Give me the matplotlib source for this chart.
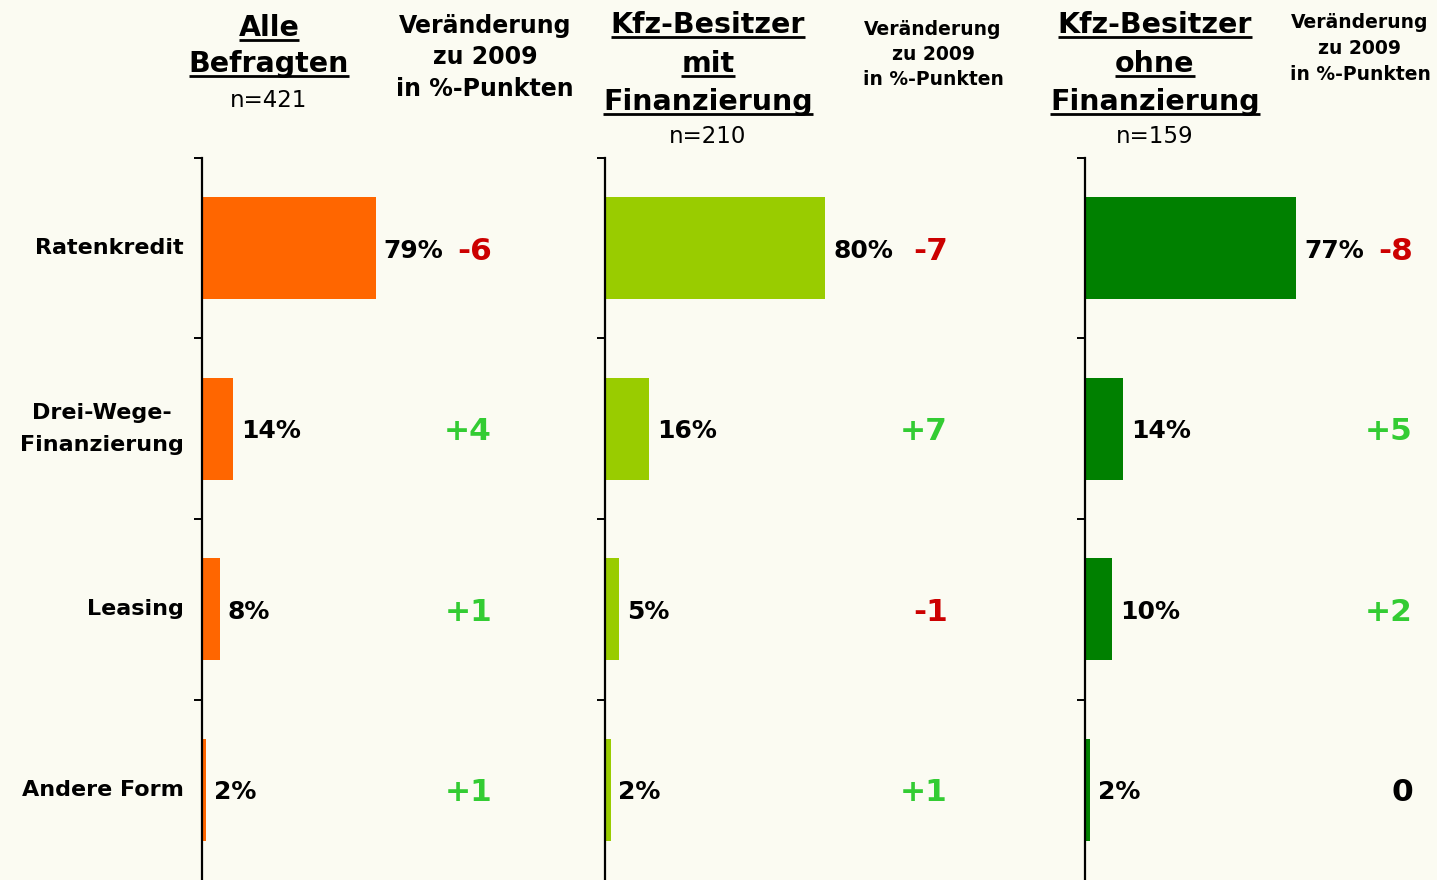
import matplotlib
matplotlib.use("Agg")
import matplotlib.pyplot as plt
from matplotlib.lines import Line2D

# ---- data -------------------------------------------------------------
categories = ["Ratenkredit", "Drei-Wege-\nFinanzierung", "Leasing", "Andere Form"]

alle_befragten = [79, 14, 8, 2]
mit_finanzierung = [80, 16, 5, 2]
ohne_finanzierung = [77, 14, 10, 2]

diff_alle = [-6, 4, 1, 1]
diff_mit = [-7, 7, -1, 1]
diff_ohne = [-8, 5, 2, 0]

group_titles = [["Alle", "Befragten"],
                ["Kfz-Besitzer", "mit", "Finanzierung"],
                ["Kfz-Besitzer", "ohne", "Finanzierung"]]
group_n = ["n=421", "n=210", "n=159"]
change_header = ["Veränderung", "zu 2009", "in %-Punkten"]

# ---- styling ----------------------------------------------------------
W, H = 1437, 880
BG = "#FBFBF2"
BAR_COLORS = ["#FF6600", "#99CC00", "#008000"]
NEG, POS, ZERO = "#CC0000", "#33CC33", "#000000"
FONT = "DejaVu Sans"

fig = plt.figure(figsize=(W / 100, H / 100), dpi=100, facecolor=BG)


def fx(px):
    return px / W


def fy(py):
    return 1 - py / H


# panel geometry in pixels: axis left edge, px per percent, x of change label
panels = [
    dict(values=alle_befragten, diffs=diff_alle, left=202, scale=2.2, diff_x=492,
         title_x=269, title_base=[36, 72], n_base=107,
         ch_x=485, ch_size=17, ch_base=[33, 64, 96]),
    dict(values=mit_finanzierung, diffs=diff_mit, left=605, scale=2.75, diff_x=948,
         title_x=708, title_base=[33, 72, 110], n_base=143,
         ch_x=933, ch_size=13.5, ch_base=[35, 60, 85]),
    dict(values=ohne_finanzierung, diffs=diff_ohne, left=1085, scale=2.74, diff_x=1413,
         title_x=1155, title_base=[33, 72, 110], n_base=143,
         ch_x=1360, ch_size=13.5, ch_base=[28, 54, 80]),
]

top_px = 158
underlined = []

for i, p in enumerate(panels):
    width_px = 100 * p["scale"]
    ax = fig.add_axes([fx(p["left"]), 0, width_px / W, (H - top_px) / H])
    ax.set_facecolor("none")
    ypos = list(range(len(categories)))
    ax.barh(ypos, p["values"], height=0.565, color=BAR_COLORS[i], zorder=2)
    ax.set_xlim(0, 100)
    ax.set_ylim(len(categories) - 0.5, -0.5)

    for s in ["top", "right", "bottom"]:
        ax.spines[s].set_visible(False)
    ax.spines["left"].set_linewidth(1.6)
    ax.spines["left"].set_zorder(3)
    ax.set_xticks([])
    ax.set_yticks([k - 0.5 for k in range(len(categories))])
    ax.set_yticklabels([])
    ax.tick_params(axis="y", direction="out", length=5.5, width=1.4, color="black")

    # value labels next to each bar
    for y, v in zip(ypos, p["values"]):
        ax.annotate(f"{v}%", xy=(v, y), xytext=(8, 0), textcoords="offset pixels",
                    ha="left", va="center_baseline", fontsize=18,
                    fontweight="bold", family=FONT, color="black",
                    annotation_clip=False)

    # change vs. 2009
    trans_diff = matplotlib.transforms.blended_transform_factory(fig.transFigure, ax.transData)
    for y, d in zip(ypos, p["diffs"]):
        if d > 0:
            txt, col = f"+{d}", POS
        elif d < 0:
            txt, col = f"-{abs(d)}", NEG
        else:
            txt, col = "0", ZERO
        ax.text(fx(p["diff_x"]), y, txt, transform=trans_diff,
                ha="right", va="center_baseline", fontsize=22.5,
                fontweight="heavy", family=FONT, color=col, clip_on=False)

    # category labels on the first panel only
    if i == 0:
        for y, c in zip(ypos, categories):
            ax.text(fx(184), y, c, transform=trans_diff,
                    ha="right", va="center", multialignment="center",
                    fontsize=16, fontweight="bold", family=FONT,
                    linespacing=1.75, clip_on=False)

    # group title (underlined) and sample size
    for line, base in zip(group_titles[i], p["title_base"]):
        t = fig.text(fx(p["title_x"]), fy(base), line, ha="center", va="baseline",
                     fontsize=20.5, fontweight="bold", family=FONT)
        underlined.append((t, base))
    fig.text(fx(p["title_x"]), fy(p["n_base"]), group_n[i], ha="center",
             va="baseline", fontsize=16.5, family=FONT)

    # header of the change column
    for line, base in zip(change_header, p["ch_base"]):
        fig.text(fx(p["ch_x"]), fy(base), line, ha="center", va="baseline",
                 fontsize=p["ch_size"], fontweight="bold", family=FONT)

# underline the group titles just below their baseline
fig.canvas.draw()
renderer = fig.canvas.get_renderer()
for t, base in underlined:
    bb = t.get_window_extent(renderer=renderer)
    yline = fy(base + 4.5)
    fig.add_artist(Line2D([bb.x0 / W, bb.x1 / W], [yline, yline],
                          transform=fig.transFigure, color="black", linewidth=2.0,
                          solid_capstyle="butt"))

fig.savefig("out.png", dpi=100, facecolor=BG)
